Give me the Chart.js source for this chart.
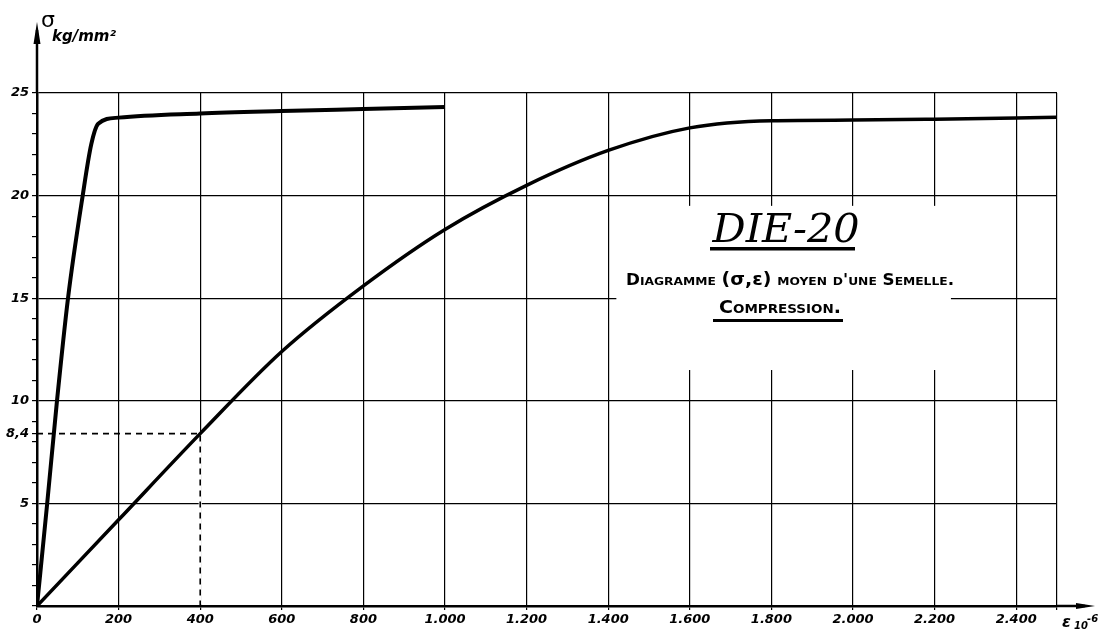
<!DOCTYPE html>
<html lang="fr">
<head>
    <meta charset="UTF-8">
    <title>DIE-20</title>
    <script src="https://cdn.jsdelivr.net/npm/chart.js@4.4.0/dist/chart.umd.min.js"></script>
    <style>
        body { margin: 0; background: #fff; }
        canvas { display: block; }
    </style>
</head>
<body>
    <canvas id="chart" width="1113" height="633"></canvas>

    <script type="text/javascript">
        // steep curve (left), strain in 10^-6, stress in kg/mm2
        var strainA = [0, 25, 49, 76, 112, 133, 150, 200, 400, 600, 800, 1000];
        var stressA = [0, 5, 10, 15, 20, 22.5, 23.5, 23.8, 24.0, 24.12, 24.22, 24.32];

        // mean curve of the flange
        var strainB = [0, 200, 400, 600, 800, 1000, 1200, 1400, 1600, 1800, 2000, 2200, 2400, 2500];
        var stressB = [0, 4.2, 8.4, 12.4, 15.6, 18.35, 20.5, 22.2, 23.3, 23.65, 23.68, 23.72, 23.78, 23.82];

        // dashed reading at 400
        var guideStrain = [0, 400, 400];
        var guideStress = [8.4, 8.4, 0];

        var xTicks = [0, 200, 400, 600, 800, 1000, 1200, 1400, 1600, 1800, 2000, 2200, 2400, 2500];
        var xTickLabels = ['0', '200', '400', '600', '800', '1.000', '1.200', '1.400', '1.600', '1.800', '2.000', '2.200', '2.400', ''];
        var yMajor = [5, 10, 15, 20, 25];
        var yMarked = 8.4;
        var yMarkedLabel = '8,4';

        function points(xs, ys) {
            return xs.map(function(x, i) { return {x: x, y: ys[i]}; });
        }

        var tickFont = {family: 'DejaVu Sans', size: 13, weight: 'bold', style: 'italic'};

        // a line of text made of runs in different fonts, squeezed to a width
        function drawRuns(ctx, runs, cx, y, width) {
            ctx.save();
            var total = 0;
            runs.forEach(function(r) {
                ctx.font = r[1];
                r.w = ctx.measureText(r[0]).width;
                total += r.w;
            });
            ctx.translate(cx - width / 2, y);
            ctx.scale(width / total, 1);
            ctx.textAlign = 'left';
            ctx.textBaseline = 'alphabetic';
            var pos = 0;
            runs.forEach(function(r) {
                ctx.font = r[1];
                ctx.fillText(r[0], pos, 0);
                pos += r.w;
            });
            ctx.restore();
        }

        var paperPlugin = {
            id: 'paper',
            beforeDatasetsDraw: function(chart) {
                var ctx = chart.ctx, x = chart.scales.x, y = chart.scales.y;
                ctx.save();
                ctx.fillStyle = '#fff';
                // blank space left around the caption
                var l = x.getPixelForValue(1420), r = x.getPixelForValue(2240);
                var t = y.getPixelForValue(19.5), b = y.getPixelForValue(11.5);
                ctx.fillRect(l, t, r - l, b - t);
                // grid line at 400 is replaced by the dashed reading below 8,4
                var gx = x.getPixelForValue(400);
                ctx.fillRect(gx - 1.5, y.getPixelForValue(8.4), 3, y.getPixelForValue(0) - 2 - y.getPixelForValue(8.4));
                ctx.restore();
            },
            afterDraw: function(chart) {
                var ctx = chart.ctx, x = chart.scales.x, y = chart.scales.y;
                var x0 = x.getPixelForValue(0), y0 = y.getPixelForValue(0);
                var top = y.getPixelForValue(25), right = x.getPixelForValue(2500);
                ctx.save();
                ctx.strokeStyle = '#000';
                ctx.fillStyle = '#000';
                ctx.lineWidth = 2.5;

                // axis arrows
                ctx.beginPath();
                ctx.moveTo(x0, top);
                ctx.lineTo(x0, 30);
                ctx.moveTo(right, y0);
                ctx.lineTo(1085, y0);
                ctx.stroke();
                ctx.beginPath();
                ctx.moveTo(x0, 22);
                ctx.lineTo(x0 - 3.5, 44);
                ctx.lineTo(x0 + 3.5, 44);
                ctx.closePath();
                ctx.fill();
                ctx.beginPath();
                ctx.moveTo(1095, y0);
                ctx.lineTo(1076, y0 - 3);
                ctx.lineTo(1076, y0 + 3);
                ctx.closePath();
                ctx.fill();

                // axis names
                ctx.textAlign = 'left';
                ctx.textBaseline = 'alphabetic';
                ctx.font = '22px "DejaVu Sans"';
                ctx.fillText('σ', 41, 27);
                ctx.font = 'bold italic 15px "DejaVu Sans"';
                ctx.fillText('kg/mm²', 52, 41);
                ctx.font = 'bold italic 16px "DejaVu Sans"';
                ctx.fillText('ε', 1062, 627);
                ctx.font = 'bold italic 10px "DejaVu Sans"';
                ctx.fillText('10', 1074, 629);
                ctx.fillText('-6', 1087, 622);

                // caption
                drawRuns(ctx, [['DIE-20', 'italic 40px "DejaVu Serif"']], 786, 242, 147);
                ctx.fillRect(710, 247, 145, 3.5);
                var sc = 'small-caps bold 15px "DejaVu Sans"';
                drawRuns(ctx, [
                    ['Diagramme ', sc],
                    ['(σ,ε)', 'bold 17px "DejaVu Sans"'],
                    [" moyen d'une Semelle.", sc]
                ], 790, 285, 328);
                drawRuns(ctx, [['Compression.', 'small-caps bold 17px "DejaVu Sans"']], 780, 313, 122);
                ctx.fillRect(713, 319, 130, 3);
                ctx.restore();
            }
        };

        new Chart(document.getElementById('chart').getContext('2d'), {
            type: 'line',
            data: {
                datasets: [{
                    label: 'guide',
                    data: points(guideStrain, guideStress),
                    borderColor: '#000',
                    borderWidth: 1.6,
                    borderDash: [6, 5],
                    pointRadius: 0,
                    tension: 0
                }, {
                    label: 'A',
                    data: points(strainA, stressA),
                    borderColor: '#000',
                    borderWidth: 4,
                    pointRadius: 0,
                    cubicInterpolationMode: 'monotone'
                }, {
                    label: 'B',
                    data: points(strainB, stressB),
                    borderColor: '#000',
                    borderWidth: 3.5,
                    pointRadius: 0,
                    cubicInterpolationMode: 'monotone'
                }]
            },
            options: {
                responsive: false,
                animation: false,
                devicePixelRatio: 1,
                layout: {padding: {top: 93, right: 56, left: 0, bottom: 0}},
                plugins: {
                    legend: {display: false},
                    tooltip: {enabled: false}
                },
                scales: {
                    x: {
                        type: 'linear',
                        min: 0,
                        max: 2500,
                        afterFit: function(s) { s.height = 27; },
                        afterBuildTicks: function(s) {
                            s.ticks = xTicks.map(function(v) { return {value: v}; });
                        },
                        ticks: {
                            autoSkip: false,
                            maxRotation: 0,
                            padding: 2,
                            color: '#000',
                            font: tickFont,
                            callback: function(v) {
                                return xTickLabels[xTicks.indexOf(v)];
                            }
                        },
                        grid: {color: '#000', lineWidth: 1.2, tickLength: 4},
                        border: {color: '#000', width: 2.5}
                    },
                    y: {
                        type: 'linear',
                        min: 0,
                        max: 25,
                        afterFit: function(s) { s.width = 37; },
                        afterBuildTicks: function(s) {
                            var t = [];
                            for (var v = 0; v <= 25; v++) t.push(v);
                            t.push(yMarked);
                            t.sort(function(a, b) { return a - b; });
                            s.ticks = t.map(function(v) { return {value: v}; });
                        },
                        ticks: {
                            autoSkip: false,
                            padding: 3,
                            color: '#000',
                            font: tickFont,
                            callback: function(v) {
                                if (yMajor.indexOf(v) >= 0) return String(v);
                                if (v === yMarked) return yMarkedLabel;
                                return '';
                            }
                        },
                        grid: {
                            color: function(c) {
                                return c.tick && yMajor.indexOf(c.tick.value) >= 0 ? '#000' : 'rgba(0,0,0,0)';
                            },
                            tickColor: '#000',
                            lineWidth: 1.2,
                            tickLength: 5
                        },
                        border: {color: '#000', width: 2.5}
                    }
                }
            },
            plugins: [paperPlugin]
        });
    </script>
</body>
</html>
